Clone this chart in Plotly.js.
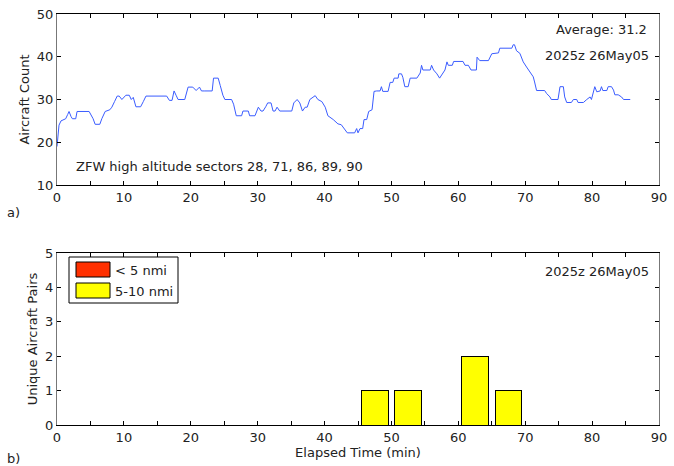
<!DOCTYPE html>
<html>
<head>
<meta charset="utf-8">
<script src="https://cdn.plot.ly/plotly-3.0.1.min.js"></script>
<style>html,body{margin:0;padding:0;background:#fff;}#chart{width:674px;height:466px;}</style>
</head>
<body>
<div id="chart"></div>
<script>
// ---- data ----
const elapsedMin = [0,0.3,0.6,1.3,1.6,1.8,2.1,2.3,2.8,3.0,4.8,5.1,5.4,5.7,6.4,6.7,7.2,7.9,8.2,8.6,9.0,9.3,9.7,10.3,10.8,11.1,11.4,11.8,12.5,12.9,13.3,16.4,16.8,17.2,17.5,17.8,18.1,19.1,19.6,20.3,20.8,21.3,21.6,22.1,23.2,23.4,24.1,24.4,24.8,25.1,26.1,26.4,26.8,27.6,27.8,28.6,28.8,29.6,30.1,30.5,30.8,31.2,31.5,32.0,32.3,32.6,32.9,33.3,35.1,35.4,35.9,36.3,36.7,37.1,37.4,37.8,38.3,38.6,39.0,39.6,40.1,40.5,41.3,42.0,42.5,42.9,43.4,44.5,44.8,45.0,45.3,45.7,45.9,46.3,46.6,47.1,47.4,47.8,48.3,48.5,48.7,49.5,49.8,50.2,50.4,51.0,51.1,51.5,51.7,52.0,52.5,52.8,53.8,54.3,54.5,54.7,55.8,56.0,56.3,56.8,57.2,58.0,58.3,58.5,59.1,59.3,60.7,61.0,61.5,61.9,62.7,62.8,63.2,64.5,65.0,66.0,66.2,68.0,68.2,68.4,68.7,69.2,69.7,70.2,70.7,71.2,71.4,71.7,72.9,73.2,73.7,73.9,74.9,75.2,75.7,75.9,76.2,76.9,77.2,77.7,77.9,78.7,79.2,79.7,79.9,80.4,80.7,81.2,81.4,81.6,82.2,82.4,82.9,83.2,83.4,83.9,84.4,84.7,85.7];
const aircraftCount = [19,24,25,25.5,26.5,27.2,26,25.5,25.5,27.2,27.2,26.5,25.5,24.2,24.2,25.5,27.2,27.6,28.2,29.5,30.8,30.8,30,31,31,30,30.5,28.3,28.3,29.5,30.8,30.8,29.8,29.8,32,31,30,30,32.9,32.9,32.1,32.9,32,32,32,35,35,33.3,31,30,30,28.9,26.2,26.2,27.3,27.3,26.2,26.2,28.2,27.3,27.3,28.3,29.2,29.2,27.3,27.3,28.2,27.3,27.3,29.2,30,29.2,27.3,28.2,28.2,30,30.5,30.9,30,29.5,28.2,26.2,25.3,24.3,24.1,23.3,22.2,22.2,23.2,22.2,23.2,23.2,25.3,25.3,27.2,27.6,31.9,32,32,33,31.9,31.9,34,34,35,35,36,36,35.2,33,33,35,35,36.2,38,36.9,36.9,38,36.9,36,35,36.9,38.8,38,38,38.9,38.9,38,38,36.9,36.9,39.9,39.1,39.1,40.7,40.9,42,42,42.8,42.8,41.4,40.8,38.8,37.6,36.4,35.3,34.1,32.1,32.1,31.4,30.6,30,30,33,33,30.6,29.3,29.3,30,30,29.3,29.3,30,30.6,30,33,31.8,32,33,32.1,32.1,33,33,32.2,31.1,31.1,30.6,30,30];

const binCenter = [47.5, 52.5, 62.5, 67.5];
const pairsUnder5 = [0, 0, 0, 0];
const pairs5to10 = [1, 1, 2, 1];
const legendNames = ['< 5 nmi', '5-10 nmi'];
const xTickVals = [0,5,10,15,20,25,30,35,40,45,50,55,60,65,70,75,80,85,90];
const xTickText = xTickVals.map(v => v % 10 === 0 ? String(v) : '');
const stampText = '2025z 26May05';
const averageText = 'Average: 31.2';
const sectorText = 'ZFW high altitude sectors 28, 71, 86, 89, 90';

// ---- layout helpers ----
const FONT = {family: 'DejaVu Sans, Liberation Sans, sans-serif', size: 13, color: '#222'};
const L = 57, R = 659, T = 14, B = 425;
const px2x = p => (p - L) / (R - L);
const px2y = p => (B - p) / (B - T);

const xBase = {
  range: [0, 90], tickvals: xTickVals, ticktext: xTickText,
  ticks: 'inside', ticklen: 4, tickcolor: '#000', tickwidth: 1,
  showline: true, linecolor: '#000', linewidth: 1, mirror: 'ticks',
  showgrid: false, zeroline: false, tickfont: FONT, fixedrange: true
};
const yBase = {
  ticks: 'inside', ticklen: 4, tickcolor: '#000', tickwidth: 1,
  showline: true, linecolor: '#777', linewidth: 1, mirror: 'ticks',
  showgrid: false, zeroline: false, tickfont: FONT, fixedrange: true
};

const traces = [
  {x: elapsedMin, y: aircraftCount, type: 'scatter', mode: 'lines',
   line: {color: '#3a5cff', width: 1}, xaxis: 'x', yaxis: 'y', showlegend: false, hoverinfo: 'skip'},
  {x: binCenter, y: pairsUnder5, type: 'bar', name: legendNames[0], width: 4,
   marker: {color: '#ff3000', line: {color: '#000', width: 1}}, xaxis: 'x2', yaxis: 'y2', showlegend: false},
  {x: binCenter, y: pairs5to10, type: 'bar', name: legendNames[1], width: 4,
   marker: {color: '#ffff00', line: {color: '#000', width: 1}}, xaxis: 'x2', yaxis: 'y2', showlegend: false}
];

const layout = {
  width: 674, height: 466,
  margin: {l: L, r: 674 - R, t: T, b: 466 - B},
  paper_bgcolor: '#fff', plot_bgcolor: '#fff',
  font: FONT, showlegend: false, barmode: 'stack', bargap: 0,
  xaxis: Object.assign({}, xBase, {anchor: 'y', domain: [0, 1]}),
  yaxis: Object.assign({}, yBase, {range: [10, 50], dtick: 10, domain: [px2y(185), 1],
    title: {text: 'Aircraft Count', font: FONT, standoff: 4}}),
  xaxis2: Object.assign({}, xBase, {anchor: 'y2', domain: [0, 1],
    title: {text: 'Elapsed Time (min)', font: FONT, standoff: 2}}),
  yaxis2: Object.assign({}, yBase, {range: [0, 5], dtick: 1, domain: [0, px2y(253)],
    title: {text: 'Unique Aircraft Pairs', font: FONT, standoff: 4}}),
  shapes: [
    {type: 'rect', xref: 'paper', yref: 'paper', x0: px2x(69), x1: px2x(178), y0: px2y(303), y1: px2y(257),
     line: {color: '#000', width: 1}, fillcolor: '#fff', layer: 'above'},
    {type: 'rect', xref: 'paper', yref: 'paper', x0: px2x(76), x1: px2x(110), y0: px2y(277), y1: px2y(262),
     line: {color: '#000', width: 1}, fillcolor: '#ff3000', layer: 'above'},
    {type: 'rect', xref: 'paper', yref: 'paper', x0: px2x(76), x1: px2x(110), y0: px2y(298), y1: px2y(283),
     line: {color: '#000', width: 1}, fillcolor: '#ffff00', layer: 'above'}
  ],
  annotations: [
    {text: averageText, xref: 'paper', yref: 'paper', x: px2x(649), y: px2y(30), xanchor: 'right', yanchor: 'middle', showarrow: false, font: FONT},
    {text: stampText, xref: 'paper', yref: 'paper', x: px2x(651), y: px2y(56), xanchor: 'right', yanchor: 'middle', showarrow: false, font: FONT},
    {text: sectorText, xref: 'paper', yref: 'paper', x: px2x(74), y: px2y(166), xanchor: 'left', yanchor: 'middle', showarrow: false, font: FONT},
    {text: stampText, xref: 'paper', yref: 'paper', x: px2x(651), y: px2y(271), xanchor: 'right', yanchor: 'middle', showarrow: false, font: FONT},
    {text: legendNames[0], xref: 'paper', yref: 'paper', x: px2x(113), y: px2y(270), xanchor: 'left', yanchor: 'middle', showarrow: false, font: FONT},
    {text: legendNames[1], xref: 'paper', yref: 'paper', x: px2x(113), y: px2y(291), xanchor: 'left', yanchor: 'middle', showarrow: false, font: FONT},
    {text: 'a)', xref: 'paper', yref: 'paper', x: px2x(5), y: px2y(213), xanchor: 'left', yanchor: 'middle', showarrow: false, font: FONT},
    {text: 'b)', xref: 'paper', yref: 'paper', x: px2x(5), y: px2y(458), xanchor: 'left', yanchor: 'middle', showarrow: false, font: FONT}
  ]
};

Plotly.newPlot('chart', traces, layout, {staticPlot: true, displayModeBar: false});
</script>
</body>
</html>
